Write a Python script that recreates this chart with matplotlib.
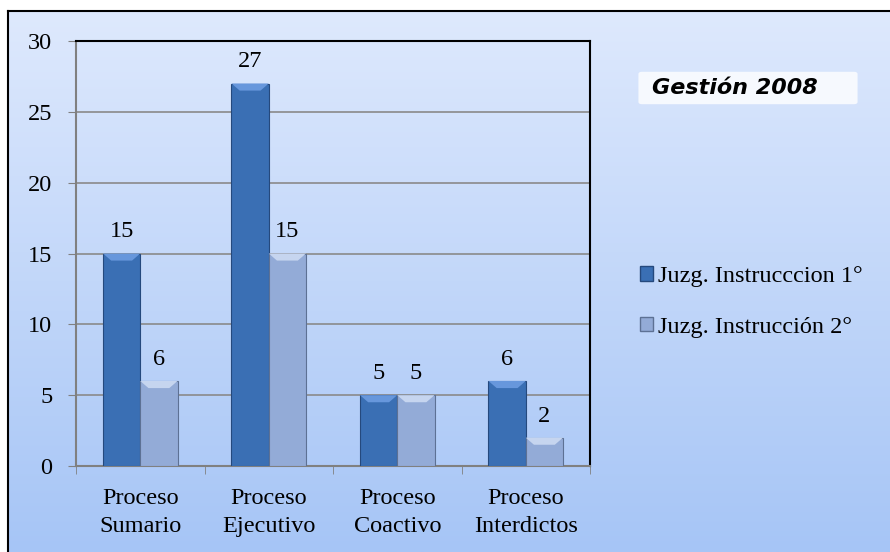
import matplotlib
matplotlib.use('Agg')
import matplotlib.pyplot as plt
import numpy as np
from matplotlib.patches import Patch, FancyBboxPatch

# datos
categorias = ['Proceso\nSumario', 'Proceso\nEjecutivo', 'Proceso\nCoactivo', 'Proceso\nInterdictos']
juzg_1 = [15, 27, 5, 6]
juzg_2 = [6, 15, 5, 2]
series_nombres = ['Juzg. Instrucccion 1°', 'Juzg. Instrucción 2°']
y_ticks = [0, 5, 10, 15, 20, 25, 30]
titulo = 'Gestión 2008'

plt.rcParams['font.family'] = ['Liberation Serif', 'DejaVu Serif']
fs = 17.5

fig = plt.figure(figsize=(8.9, 5.52), dpi=100)
fig.patch.set_facecolor('white')

# fondo con degradado
bg = fig.add_axes([8 / 890, 0, 1 - 8 / 890, 541 / 552])
top_c = np.array([222, 233, 253]) / 255
bot_c = np.array([166, 197, 246]) / 255
t = np.linspace(0, 1, 256)[:, None]
g = top_c[None, None, :] * (1 - t[:, :, None]) + bot_c[None, None, :] * t[:, :, None]
bg.imshow(g, aspect='auto', extent=[0, 1, 0, 1])
bg.set_xticks([])
bg.set_yticks([])
for s in ['right', 'bottom']:
    bg.spines[s].set_visible(False)
for s in ['left', 'top']:
    bg.spines[s].set_linewidth(1.5)
    bg.spines[s].set_color('black')

ax = fig.add_axes([76 / 890, 86 / 552, 514 / 890, 425 / 552])
ax.patch.set_alpha(0)

x = np.arange(len(categorias))
w = 0.29
b1 = ax.bar(x - w / 2, juzg_1, w, color='#3a6fb4', edgecolor='#25497d', linewidth=0.8, zorder=3)
b2 = ax.bar(x + w / 2, juzg_2, w, color='#93abd7', edgecolor='#5d7194', linewidth=0.8, zorder=3)

# biselado sencillo en la parte superior
for bars, light in [(b1, '#6797dc'), (b2, '#c6d5ef')]:
    for r in bars:
        x0, y0 = r.get_x(), r.get_height()
        ax.fill([x0, x0 + r.get_width(), x0 + r.get_width() * 0.78, x0 + r.get_width() * 0.22],
                [y0, y0, y0 - 0.5, y0 - 0.5], color=light, zorder=4, lw=0)

for bars in [b1, b2]:
    for r in bars:
        ax.annotate(str(int(r.get_height())), (r.get_x() + r.get_width() / 2, r.get_height()),
                    xytext=(0, 8), textcoords='offset points', ha='center', va='bottom',
                    fontsize=fs, zorder=5)

ax.set_xlim(-0.5, 3.5)
ax.set_ylim(0, 30)
ax.set_yticks(y_ticks)
ax.set_yticklabels([str(v) for v in y_ticks], fontsize=fs)
ax.set_xticks(x)
ax.set_xticklabels(categorias, fontsize=fs, linespacing=1.4)
ax.tick_params(axis='x', length=0, pad=16)
ax.set_xticks(np.arange(-0.5, 4.0, 1.0), minor=True)
ax.tick_params(axis='x', which='minor', length=6, color='#808080', direction='out')
ax.tick_params(axis='y', length=6, color='#808080', direction='out', pad=11)
ax.yaxis.grid(True, color='#8a8a8a', linewidth=1.2, zorder=1)
ax.set_axisbelow(True)
for s in ['left', 'bottom']:
    ax.spines[s].set_color('#808080')
    ax.spines[s].set_linewidth(1.5)
for s in ['top', 'right']:
    ax.spines[s].set_color('black')
    ax.spines[s].set_linewidth(1.5)

# leyenda
handles = [Patch(facecolor='#3a6fb4', edgecolor='#25497d'),
           Patch(facecolor='#93abd7', edgecolor='#5d7194')]
fig.legend(handles, series_nombres, loc='center left', bbox_to_anchor=(618 / 890, 1 - 302 / 552),
           frameon=False, fontsize=fs, handlelength=0.55, handleheight=0.55,
           handletextpad=0.2, labelspacing=1.2)

# recuadro del título
fig.patches.append(FancyBboxPatch((642 / 890, 1 - 102 / 552), 212 / 890, 28 / 552,
                                  boxstyle='round,pad=0.004', transform=fig.transFigure,
                                  facecolor='white', edgecolor='none', alpha=0.8))
fig.text(652 / 890, 1 - 88 / 552, titulo, fontsize=16, fontweight='bold', style='italic',
         family='DejaVu Sans', va='center', ha='left')

fig.savefig('out.png', dpi=100)
